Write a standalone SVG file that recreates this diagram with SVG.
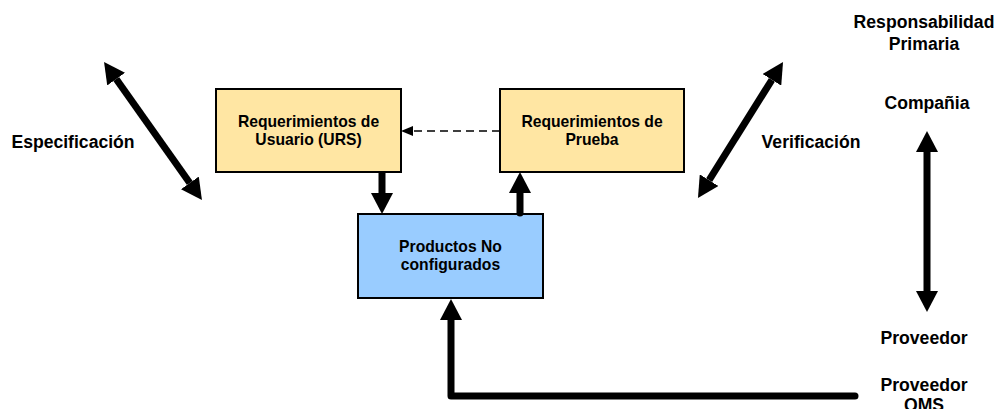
<svg xmlns="http://www.w3.org/2000/svg" width="999" height="409" viewBox="0 0 999 409">
  <style>
    .box { stroke: #000; stroke-width: 2; }
    .req { fill: #FFE6A3; }
    .prod { fill: #99CCFF; }
    .t { font-family: "Liberation Sans", Arial, sans-serif; font-weight: bold; fill: #000; text-anchor: middle; }
    .bt { font-size: 15.7px; }
    .lt { font-size: 17.6px; }
    .thick { fill: none; stroke: #000; stroke-width: 7; }
    .dash { fill: none; stroke: #000; stroke-width: 1.5; stroke-dasharray: 8 5; }
  </style>
  <defs>
    <marker id="ah" viewBox="0 0 21 22" refX="0" refY="11" markerWidth="21" markerHeight="22" markerUnits="userSpaceOnUse" orient="auto-start-reverse">
      <path d="M0,0 L21,11 L0,22 Z" fill="#000"/>
    </marker>
    <marker id="ahs" viewBox="0 0 12 10" refX="0" refY="5" markerWidth="12" markerHeight="10" markerUnits="userSpaceOnUse" orient="auto">
      <path d="M0,0 L12,5 L0,10 Z" fill="#000"/>
    </marker>
  </defs>

  <!-- requirement and product boxes -->
  <g id="urs">
    <rect class="box req" x="216" y="89" width="185" height="83"/>
    <text class="t bt" x="308.5" y="127">Requerimientos de</text>
    <text class="t bt" x="308.5" y="145">Usuario (URS)</text>
  </g>
  <g id="prueba">
    <rect class="box req" x="500" y="89" width="184" height="83"/>
    <text class="t bt" x="592" y="127">Requerimientos de</text>
    <text class="t bt" x="592" y="145">Prueba</text>
  </g>
  <g id="productos">
    <rect class="box prod" x="358" y="214" width="185" height="84"/>
    <text class="t bt" x="450.5" y="252">Productos No</text>
    <text class="t bt" x="450.5" y="270">configurados</text>
  </g>

  <!-- side labels -->
  <g id="especificacion"><text class="t lt" x="73" y="148">Especificación</text></g>
  <g id="verificacion"><text class="t lt" x="811" y="148">Verificación</text></g>
  <g id="responsabilidad">
    <text class="t lt" x="924" y="28">Responsabilidad</text>
    <text class="t lt" x="924" y="50">Primaria</text>
  </g>
  <g id="compania"><text class="t lt" x="927" y="109">Compañia</text></g>
  <g id="proveedor"><text class="t lt" x="924" y="344">Proveedor</text></g>
  <g id="proveedor-qms">
    <text class="t lt" x="924" y="391">Proveedor</text>
    <text class="t lt" x="924" y="411">QMS</text>
  </g>

  <!-- connectors -->
  <g id="connectors">
    <line class="dash" x1="500" y1="131" x2="413" y2="131" marker-end="url(#ahs)"/>
    <line class="thick" x1="382" y1="172" x2="382" y2="193" marker-end="url(#ah)"/>
    <line class="thick" x1="520" y1="213" x2="520" y2="193" stroke-linecap="round" marker-end="url(#ah)"/>
    <path class="thick" d="M855,396 H451 V320" stroke-linecap="round" stroke-linejoin="round" marker-end="url(#ah)"/>
    <line class="thick" x1="116.2" y1="79.1" x2="189.8" y2="182.9" marker-start="url(#ah)" marker-end="url(#ah)"/>
    <line class="thick" x1="771.9" y1="79.8" x2="709.1" y2="180.2" marker-start="url(#ah)" marker-end="url(#ah)"/>
    <line class="thick" x1="927" y1="152" x2="927" y2="291" marker-start="url(#ah)" marker-end="url(#ah)"/>
  </g>
</svg>
